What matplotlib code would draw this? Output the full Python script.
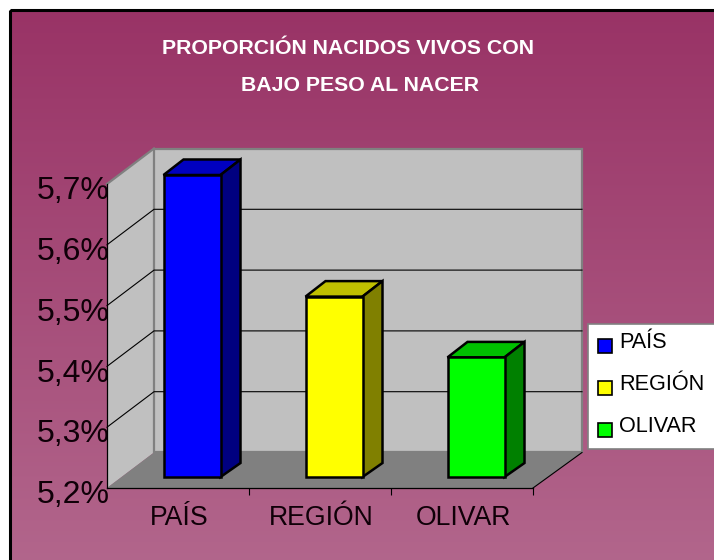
import numpy as np
import matplotlib
matplotlib.use("Agg")
import matplotlib.pyplot as plt
from matplotlib.patches import Rectangle
from matplotlib.transforms import ScaledTranslation

categories = ["PAÍS", "REGIÓN", "OLIVAR"]
values = [5.7, 5.5, 5.4]
y_ticks = [5.2, 5.3, 5.4, 5.5, 5.6, 5.7]
y_tick_labels = ["5,2%", "5,3%", "5,4%", "5,5%", "5,6%", "5,7%"]
title_lines = ["PROPORCIÓN NACIDOS VIVOS CON", "BAJO PESO AL NACER"]
front_colors = ["#0000FF", "#FFFF00", "#00FF00"]
top_colors = ["#0000C0", "#C0C000", "#00C000"]
side_colors = ["#000080", "#808000", "#008000"]

W, H = 714, 560
plt.rcParams["font.family"] = ["Liberation Sans", "DejaVu Sans"]
fig = plt.figure(figsize=(W / 100, H / 100), dpi=100, facecolor="white")

# page background, in pixels
bg = fig.add_axes([0, 0, 1, 1])
bg.set_xlim(0, W)
bg.set_ylim(H, 0)
bg.axis("off")
gradient = np.linspace(0, 1, 256).reshape(-1, 1, 1)
colors = (1 - gradient) * np.array([153, 51, 102]) + gradient * np.array([178, 102, 140])
bg.imshow(colors / 255, extent=[10, W + 5, H + 5, 10], aspect="auto", zorder=1)
bg.set_xlim(0, W)
bg.set_ylim(H, 0)
bg.add_patch(Rectangle((9.5, 9.5), W, H, fill=False, ec="black", lw=2.2, zorder=2))
bg.text(347.5, 49, title_lines[0], color="white", fontsize=15.3, fontweight="bold", ha="center", va="center", zorder=3)
bg.text(360, 85.5, title_lines[1], color="white", fontsize=15.3, fontweight="bold", ha="center", va="center", zorder=3)

# front plane of the chart: 3 categories across, 5.2-5.7 up
ax = fig.add_axes([107 / W, (H - 488) / H, 426 / W, 304 / H])
ax.patch.set_visible(False)
ax.set_xlim(0, 3)
ax.set_ylim(y_ticks[0], y_ticks[-1])
px_x = 3 / 426
px_y = (y_ticks[-1] - y_ticks[0]) / 304

# oblique depth offsets
wall_dx, wall_dy = 47 * px_x, 35.5 * px_y
wall_right = 3 + 49 * px_x
bar_dx = 14 * px_x
bar_foot, bar_head = 11 * px_y, 9 * px_y
cap_dx, cap_dy = 20 * px_x, 15.5 * px_y
foot_dy = 14 * px_y
bar_w = 57 * px_x
base, top = y_ticks[0], y_ticks[-1]
right = 3

ax.fill([0, wall_dx, wall_dx, 0], [base, base + wall_dy, top + wall_dy, top],
        fc="#C0C0C0", ec="none", clip_on=False, zorder=1)
ax.fill([wall_dx, wall_right, wall_right, wall_dx],
        [base + wall_dy, base + wall_dy, top + wall_dy, top + wall_dy],
        fc="#C0C0C0", ec="#808080", lw=1.6, clip_on=False, zorder=1)
ax.plot([0, wall_dx], [top, top + wall_dy], color="#808080", lw=1.6, clip_on=False, zorder=2)
ax.fill([0, wall_dx, wall_right, right], [base, base + wall_dy, base + wall_dy, base],
        fc="#808080", ec="none", clip_on=False, zorder=2)
ax.plot([right, wall_right], [base, base + wall_dy], color="black", lw=0.8, clip_on=False, zorder=2)

for t in y_ticks[1:-1]:
    ax.plot([0, wall_dx, wall_right], [t, t + wall_dy, t + wall_dy],
            color="black", lw=0.8, clip_on=False, zorder=1.5)

x = np.arange(len(categories)) + 0.5 + bar_dx
val = np.array(values)
ax.bar(x, val + bar_head - (base + bar_foot), bottom=base + bar_foot, width=bar_w, color=front_colors,
       edgecolor="black", linewidth=1.8, clip_on=False, zorder=4)
for xi, v, tc, sc in zip(x, values, top_colors, side_colors):
    l, r = xi - bar_w / 2, xi + bar_w / 2
    y0, y1 = base + bar_foot, v + bar_head
    ax.fill([l, l + cap_dx, r + cap_dx, r], [y1, y1 + cap_dy, y1 + cap_dy, y1],
            fc=tc, ec="black", lw=1.8, clip_on=False, zorder=3)
    ax.fill([r, r + cap_dx, r + cap_dx, r], [y0, y0 + foot_dy, y1 + cap_dy, y1],
            fc=sc, ec="black", lw=1.8, clip_on=False, zorder=3)

for s in ["top", "right"]:
    ax.spines[s].set_visible(False)
for s in ["left", "bottom"]:
    ax.spines[s].set_linewidth(0.9)
    ax.spines[s].set_zorder(5)

ax.set_yticks(y_ticks)
ax.set_yticklabels(y_tick_labels, fontsize=23, color="#100008")
ax.tick_params(axis="y", length=0, pad=-2)
ax.set_xticks(np.arange(len(categories)) + 0.5)
ax.set_xticklabels(categories, fontsize=19.2, color="#100008")
ax.tick_params(axis="x", which="major", length=0, pad=12)
ax.set_xticks([1, 2, 3], minor=True)
ax.tick_params(axis="x", which="minor", length=5, width=0.8)
shift = ScaledTranslation(0, -2.7 / 72, fig.dpi_scale_trans)
for lab in ax.get_yticklabels():
    lab.set_transform(lab.get_transform() + shift)
shift_x = ScaledTranslation(0.8 / 72, 0, fig.dpi_scale_trans)
for lab in ax.get_xticklabels():
    lab.set_transform(lab.get_transform() + shift_x)

# legend box runs off the right edge
lg = fig.add_axes([0, 0, 1, 1])
lg.patch.set_visible(False)
lg.axis("off")
lg.set_xlim(0, W)
lg.set_ylim(H, 0)
lg.add_patch(Rectangle((587.5, 323.5), 140, 125, fc="white", ec="#808080", lw=1.2))
for i, name in enumerate(categories):
    lg.add_patch(Rectangle((597.5, 339 + i * 42), 14, 14, fc=front_colors[i], ec="black", lw=1.2))
    lg.text(619.5, 342 + i * 42, name, fontsize=15.6, color="black", ha="left", va="center")

fig.savefig("out.png", dpi=100)
